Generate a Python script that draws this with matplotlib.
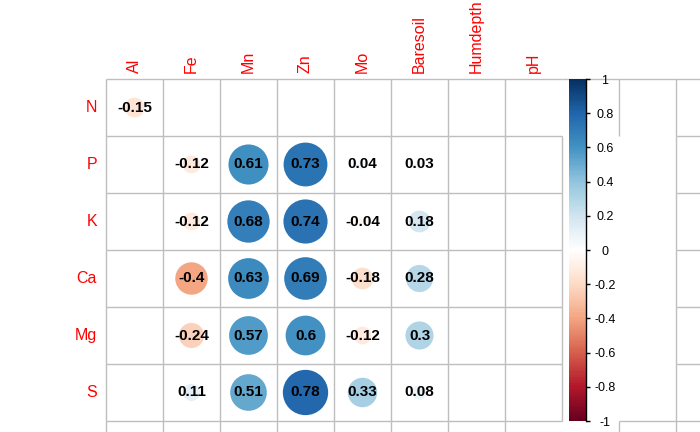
import numpy as np
import matplotlib.pyplot as plt
from matplotlib.colors import LinearSegmentedColormap, Normalize
from matplotlib.collections import LineCollection
from matplotlib.patches import Circle
from matplotlib.cm import ScalarMappable

# ===================== 数据 =====================
row_labels = ['N', 'P', 'K', 'Ca', 'Mg', 'S']
col_labels = ['Al', 'Fe', 'Mn', 'Zn', 'Mo', 'Baresoil', 'Humdepth', 'pH']
nan = np.nan
r_N  = [-0.15, nan, nan, nan, nan, nan, nan, nan]
r_P  = [nan, -0.12, 0.61, 0.73, 0.04, 0.03, nan, nan]
r_K  = [nan, -0.12, 0.68, 0.74, -0.04, 0.18, nan, nan]
r_Ca = [nan, -0.40, 0.63, 0.69, -0.18, 0.28, nan, nan]
r_Mg = [nan, -0.24, 0.57, 0.60, -0.12, 0.30, nan, nan]
r_S  = [nan, 0.11, 0.51, 0.78, 0.33, 0.08, nan, nan]
corr = np.array([r_N, r_P, r_K, r_Ca, r_Mg, r_S])
cbar_ticks = [1, 0.8, 0.6, 0.4, 0.2, 0, -0.2, -0.4, -0.6, -0.8, -1]

# corrplot 的 RdBu 配色
col2 = ["#67001F", "#B2182B", "#D6604D", "#F4A582", "#FDDBC7", "#FFFFFF",
        "#D1E5F0", "#92C5DE", "#4393C3", "#2166AC", "#053061"]
cmap = LinearSegmentedColormap.from_list('corr_rdbu', col2, N=200)
norm = Normalize(-1, 1)

FONT = 'Liberation Sans'
W, H, DPI = 700, 432, 100
CELL = 57.0
X0, Y0 = 106.0, 79.0   # 网格左上角（像素）

fig = plt.figure(figsize=(W / DPI, H / DPI), dpi=DPI)
ax = fig.add_axes([0, 0, 1, 1])
# 数据坐标：每格为 1，格中心为整数
ax.set_xlim(-(X0 / CELL) - 0.5, (W - X0) / CELL - 0.5)
ax.set_ylim((H - Y0) / CELL - 0.5, -(Y0 / CELL) - 0.5)
ax.axis('off')

# ===================== 网格线 =====================
segs = []
for c in range(-1, 11):
    for r in range(0, 7):
        if (c == 7 and (r == 0 or r >= 6)) or (c == 8 and 1 <= r <= 5):
            continue
        segs.append([(c + 0.5, r - 0.5), (c + 0.5, r + 0.5)])
for r in range(-1, 7):
    for c in range(0, 11):
        if (0 <= r <= 4 and c in (8, 9)) or (r == 5 and c == 8):
            continue
        segs.append([(c - 0.5, r + 0.5), (c + 0.5, r + 0.5)])
ax.add_collection(LineCollection(segs, colors='#BEBEBE', linewidths=1.0, zorder=1))

# ===================== 圆圈与数值 =====================
for i in range(corr.shape[0]):
    for j in range(corr.shape[1]):
        v = corr[i, j]
        if np.isnan(v):
            continue
        ax.add_patch(Circle((j, i), 0.45 * np.sqrt(abs(v)), color=cmap(norm(v)),
                            lw=0, zorder=2))
        ax.text(j, i, f"{round(v, 2):g}", ha='center', va='center', fontsize=11,
                fontweight='bold', family=FONT, color='black', zorder=3)

# 行、列标签
for i, name in enumerate(row_labels):
    ax.text(-0.5 - 9 / CELL, i, name, ha='right', va='center', fontsize=11.5,
            family=FONT, color='red')
for j, name in enumerate(col_labels):
    ax.text(j, -0.5 - 6 / CELL, name, ha='center', va='bottom', rotation=90,
            fontsize=11.5, family=FONT, color='red')

# ===================== 颜色条 =====================
cax = fig.add_axes([569 / W, 1 - 421 / H, 17 / W, (421 - 79) / H])
sm = ScalarMappable(norm=norm, cmap=cmap)
cb = fig.colorbar(sm, cax=cax, ticks=cbar_ticks)
cb.outline.set_visible(False)
cax.axvline(1, color='black', lw=1.0, clip_on=False)
cax.tick_params(axis='y', length=3, width=1, pad=10.5, colors='black')
cax.set_yticklabels([f"{t:g}" for t in cbar_ticks])
for lab in cax.get_yticklabels():
    lab.set_ha('center')
    lab.set_family(FONT)
    lab.set_fontsize(9)

fig.savefig('out.png', dpi=DPI)
